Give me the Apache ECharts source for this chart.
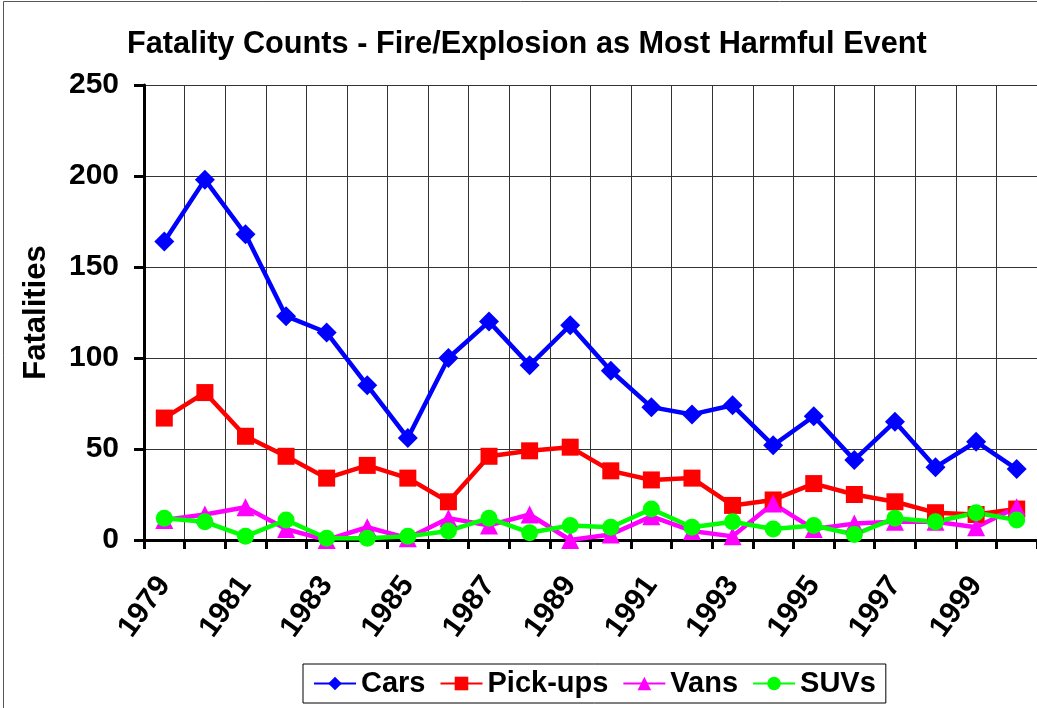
<!DOCTYPE html>
<html>
<head>
<meta charset="utf-8">
<script src="https://cdn.jsdelivr.net/npm/echarts@6/dist/echarts.min.js"></script>
<style>
html,body{margin:0;padding:0;background:#fff;}
#c{width:1037px;height:708px;}
</style>
</head>
<body>
<div id="c"></div>
<script>
const years = ['1979','1980','1981','1982','1983','1984','1985','1986','1987','1988','1989','1990','1991','1992','1993','1994','1995','1996','1997','1998','1999','2000'];
const cars = [164,198,168,123,114,85,56,100,120,96,118,93,73,69,74,52,68,44,65,40,54,39];
const pickups = [67,81,57,46,34,41,34,21,46,49,51,38,33,34,19,22,31,25,21,15,14,17];
const vans = [11,14,18,6,0,7,1,12,8,14,0,3,13,5,2,20,6,9,10,10,7,18];
const suvs = [12,10,2,11,1,1,2,5,12,4,8,7,17,7,10,6,8,3,12,10,15,11];
const yTicks = [0,50,100,150,200,250];

const FONT = 'Arial, "Liberation Sans", sans-serif';
const chart = echarts.init(document.getElementById('c'), null, {renderer:'canvas'});

function ser(name, data, color, symbol, size){
  return {
    name, type:'line', data, symbol, symbolSize:size,
    lineStyle:{color, width:4.5},
    itemStyle:{color},
    animation:false
  };
}

chart.setOption({
  animation:false,
  textStyle:{fontFamily:FONT},
  graphic:[{type:'rect', shape:{x:3.5,y:1.5,width:1100,height:800}, style:{fill:null, stroke:'#555', lineWidth:1}, silent:true}],
  title:{
    text:'Fatality Counts - Fire/Explosion as Most Harmful Event',
    left:122, top:24,
    textStyle:{fontFamily:FONT, fontWeight:'bold', fontSize:30.7, color:'#000'}
  },
  grid:{left:144, right:0, top:85, height:455, containLabel:false},
  legend:{
    left:303, top:664,
    padding:[5,10,5,10],
    borderColor:'#000', borderWidth:1,
    itemWidth:42, itemHeight:17, itemGap:14,
    textStyle:{fontFamily:FONT, fontWeight:'bold', fontSize:29, color:'#000'},
    data:['Cars','Pick-ups','Vans','SUVs']
  },
  xAxis:{
    type:'category', data:years, boundaryGap:true,
    axisLine:{lineStyle:{color:'#000', width:3}},
    axisTick:{show:true, interval:0, length:9, lineStyle:{color:'#000', width:3}},
    splitLine:{show:true, interval:0, lineStyle:{color:'#333', width:1}},
    axisLabel:{interval:1, rotate:54, margin:40, fontFamily:FONT, fontWeight:'bold', fontSize:30, color:'#000'}
  },
  yAxis:{
    type:'value', min:0, max:250, interval:50,
    name:'Fatalities', nameLocation:'middle', nameGap:92, nameRotate:90,
    nameTextStyle:{fontFamily:FONT, fontWeight:'bold', fontSize:31, color:'#000'},
    axisLine:{show:true, lineStyle:{color:'#000', width:3}},
    axisTick:{show:true, length:10, lineStyle:{color:'#000', width:3}},
    splitLine:{show:true, lineStyle:{color:'#333', width:1}},
    axisLabel:{margin:25, fontFamily:FONT, fontWeight:'bold', fontSize:30, color:'#000',
      formatter:v => yTicks.includes(v) ? String(v) : ''}
  },
  series:[
    ser('Cars', cars, '#0000ff', 'diamond', 20),
    ser('Pick-ups', pickups, '#ff0000', 'rect', 17),
    ser('Vans', vans, '#ff00ff', 'triangle', 18),
    ser('SUVs', suvs, '#00ff00', 'circle', 17)
  ]
});
</script>
</body>
</html>
